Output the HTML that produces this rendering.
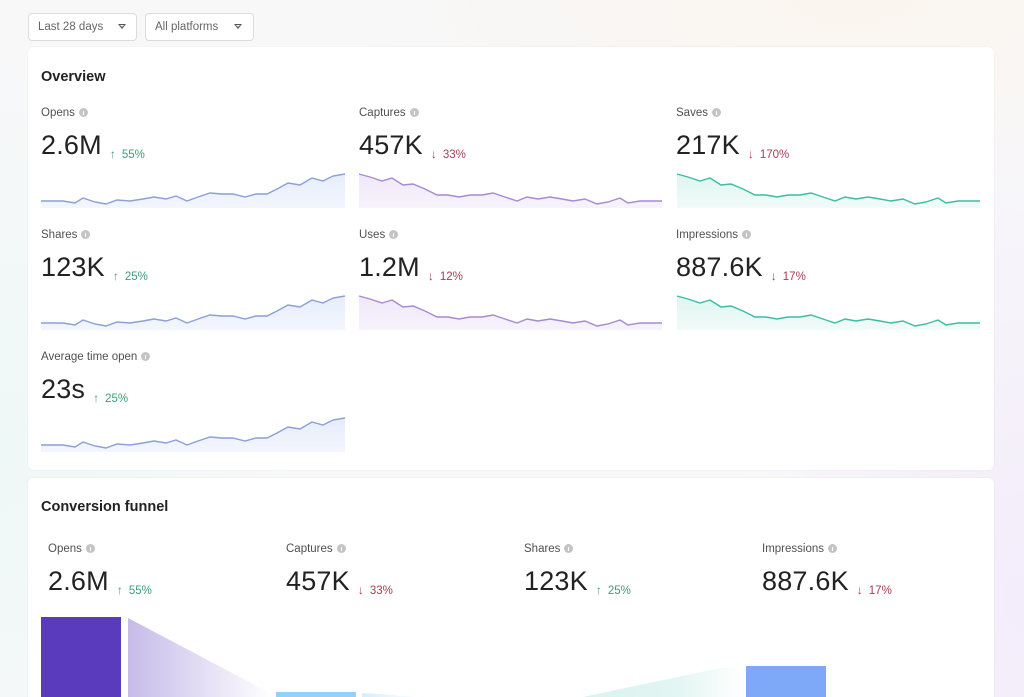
<!DOCTYPE html>
<html style="width:1024px;height:697px;overflow:hidden"><head><meta charset="utf-8"><style>
*{margin:0;padding:0;box-sizing:border-box}
body{width:1024px;height:697px;overflow:hidden;position:relative;font-family:"Liberation Sans",sans-serif;
background:
radial-gradient(ellipse 300px 400px at 0px 450px, #eef8f7 0%, rgba(238,248,247,0) 100%),
radial-gradient(ellipse 300px 500px at 1024px 600px, #f3ecfb 0%, rgba(243,236,251,0) 100%),
radial-gradient(ellipse 500px 200px at 850px 0px, #fbf5ef 0%, rgba(251,245,239,0) 100%),
#f8f8f9;}
.dd{position:absolute;top:13px;height:28px;border:1px solid #dcdcde;border-radius:4px;background:#fff;font-size:11.5px;color:#666;line-height:26px;padding-left:9px}
.dd .tri{position:absolute;top:10px;width:0;height:0;border-left:4px solid transparent;border-right:4px solid transparent;border-top:5px solid #555}
.dd .tri:after{content:"";position:absolute;left:-2px;top:-4px;border-left:2px solid transparent;border-right:2px solid transparent;border-top:2px solid #fff}
.card{position:absolute;left:28px;width:966px;background:#fff;border-radius:6px;box-shadow:0 0 2px rgba(0,0,0,0.06)}
.title{position:absolute;font-size:14.5px;font-weight:bold;color:#222}
.lbl{position:absolute;font-size:11.5px;color:#505050;white-space:nowrap}
.lbl i{display:inline-block;width:9px;height:9px;border-radius:50%;background:#c4c4c7;margin-left:4px;vertical-align:-1px;position:relative}
.lbl i:after{content:"";position:absolute;left:4px;top:3px;width:1px;height:4px;background:#fff}
.val{position:absolute;font-size:27px;color:#222;white-space:nowrap;letter-spacing:0.2px}
.chg{font-size:11.5px;margin-left:8px;letter-spacing:0;vertical-align:-4px}
.chg b{font-weight:normal;font-size:12px;margin-right:6px}
.up{color:#3f9c74}.dn{color:#a3404f}
svg{position:absolute}
</style></head><body>
<div class="dd" style="left:28px;width:109px">Last 28 days<span class="tri" style="left:89px"></span></div>
<div class="dd" style="left:145px;width:109px">All platforms<span class="tri" style="left:88px"></span></div>

<div class="card" style="top:47px;height:423px"></div>
<div class="card" style="top:478px;height:219px;border-bottom-left-radius:0;border-bottom-right-radius:0"></div>

<div class="title" style="left:41px;top:69px">Overview</div>

<div class="lbl" style="left:41px;top:107px">Opens<i></i></div>
<div class="val" style="left:41px;top:130px">2.6M<span class="chg up"><b>↑</b>55%</span></div>
<div class="lbl" style="left:359px;top:107px">Captures<i></i></div>
<div class="val" style="left:359px;top:130px">457K<span class="chg dn"><b>↓</b>33%</span></div>
<div class="lbl" style="left:676px;top:107px">Saves<i></i></div>
<div class="val" style="left:676px;top:130px">217K<span class="chg dn"><b>↓</b>170%</span></div>

<div class="lbl" style="left:41px;top:229px">Shares<i></i></div>
<div class="val" style="left:41px;top:252px">123K<span class="chg up"><b>↑</b>25%</span></div>
<div class="lbl" style="left:359px;top:229px">Uses<i></i></div>
<div class="val" style="left:359px;top:252px">1.2M<span class="chg dn"><b>↓</b>12%</span></div>
<div class="lbl" style="left:676px;top:229px">Impressions<i></i></div>
<div class="val" style="left:676px;top:252px">887.6K<span class="chg dn"><b>↓</b>17%</span></div>

<div class="lbl" style="left:41px;top:351px">Average time open<i></i></div>
<div class="val" style="left:41px;top:374px">23s<span class="chg up"><b>↑</b>25%</span></div>

<svg width="1024" height="697" style="left:0;top:0">
<defs>
<linearGradient id="gb" x1="0" y1="0" x2="0" y2="1"><stop offset="0" stop-color="#e6edfb"/><stop offset="1" stop-color="#f3f6fd"/></linearGradient>
<linearGradient id="gp" x1="0" y1="0" x2="0" y2="1"><stop offset="0" stop-color="#efe8f9"/><stop offset="1" stop-color="#f7f3fc"/></linearGradient>
<linearGradient id="gt" x1="0" y1="0" x2="0" y2="1"><stop offset="0" stop-color="#def5f1"/><stop offset="1" stop-color="#f1fbf9"/></linearGradient>
<linearGradient id="fp" x1="0" y1="0" x2="1" y2="0"><stop offset="0" stop-color="#c6bbe9"/><stop offset="1" stop-color="#ffffff"/></linearGradient>
<linearGradient id="fc" x1="0" y1="0" x2="1" y2="0"><stop offset="0" stop-color="#d5eef8"/><stop offset="1" stop-color="#ffffff"/></linearGradient>
<linearGradient id="fi" x1="0" y1="0" x2="1" y2="0"><stop offset="0" stop-color="#d9f3ef"/><stop offset="0.6" stop-color="#e2f6f3"/><stop offset="1" stop-color="#ffffff"/></linearGradient>
<g id="up">
<path d="M0,33 22,33 34,35 42,30 54,34 65,36 76,32 89,33 102,31 113,29 125,31 135,28 146,33 157,29 169,25 181,26 192,26 204,29 215,26 226,26 236,21 247,15 259,17 271,10 282,13 292,8 304,6 304,40 0,40Z" fill="url(#gb)"/>
<path d="M0,33 22,33 34,35 42,30 54,34 65,36 76,32 89,33 102,31 113,29 125,31 135,28 146,33 157,29 169,25 181,26 192,26 204,29 215,26 226,26 236,21 247,15 259,17 271,10 282,13 292,8 304,6" fill="none" stroke="#8c9fd8" stroke-width="1.4"/>
</g>
<path id="dnp" d="M0,6 11,9 23,13 33,10 44,17 54,16 66,21 78,27 89,27 100,29 111,27 123,27 134,25 146,29 158,33 168,29 179,31 191,29 203,31 214,33 226,31 238,36 249,34 261,30 269,35 281,33 293,33 303,33"/>
<path id="dnf" d="M0,6 11,9 23,13 33,10 44,17 54,16 66,21 78,27 89,27 100,29 111,27 123,27 134,25 146,29 158,33 168,29 179,31 191,29 203,31 214,33 226,31 238,36 249,34 261,30 269,35 281,33 293,33 303,33 303,40 0,40Z"/>
</defs>
<use href="#up" x="41" y="168"/>
<use href="#up" x="41" y="290"/>
<use href="#up" x="41" y="412"/>
<use href="#dnf" x="359" y="168" fill="url(#gp)"/>
<use href="#dnp" x="359" y="168" fill="none" stroke="#a68ad4" stroke-width="1.4"/>
<use href="#dnf" x="359" y="290" fill="url(#gp)"/>
<use href="#dnp" x="359" y="290" fill="none" stroke="#a68ad4" stroke-width="1.4"/>
<use href="#dnf" x="677" y="168" fill="url(#gt)"/>
<use href="#dnp" x="677" y="168" fill="none" stroke="#3cbca4" stroke-width="1.4"/>
<use href="#dnf" x="677" y="290" fill="url(#gt)"/>
<use href="#dnp" x="677" y="290" fill="none" stroke="#3cbca4" stroke-width="1.4"/>

<rect x="41" y="617" width="80" height="90" fill="#5b3bbd"/>
<polygon points="128,618 272,694 272,697 128,697" fill="url(#fp)"/>
<rect x="276" y="692" width="80" height="20" fill="#92d2f6"/>
<polygon points="362,693 420,697 362,697" fill="url(#fc)"/>
<polygon points="583,697 720,668 742,668 742,697" fill="url(#fi)"/>
<rect x="746" y="666" width="80" height="40" fill="#7ea8f8"/>
</svg>

<div class="title" style="left:41px;top:499px">Conversion funnel</div>
<div class="lbl" style="left:48px;top:543px">Opens<i></i></div>
<div class="val" style="left:48px;top:566px">2.6M<span class="chg up"><b>↑</b>55%</span></div>
<div class="lbl" style="left:286px;top:543px">Captures<i></i></div>
<div class="val" style="left:286px;top:566px">457K<span class="chg dn"><b>↓</b>33%</span></div>
<div class="lbl" style="left:524px;top:543px">Shares<i></i></div>
<div class="val" style="left:524px;top:566px">123K<span class="chg up"><b>↑</b>25%</span></div>
<div class="lbl" style="left:762px;top:543px">Impressions<i></i></div>
<div class="val" style="left:762px;top:566px">887.6K<span class="chg dn"><b>↓</b>17%</span></div>
</body></html>
